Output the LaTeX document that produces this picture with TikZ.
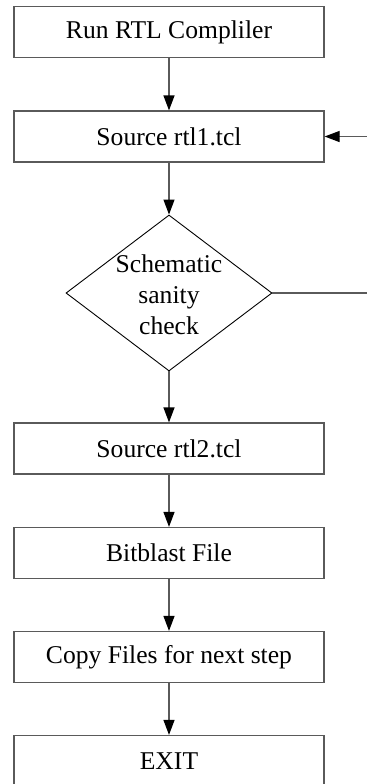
\documentclass[tikz,border=0pt]{standalone}
\usepackage{fontspec}
\setmainfont{Liberation Serif}
\usetikzlibrary{shapes.geometric,arrows.meta}
\definecolor{edge}{HTML}{5A5A5A}
\begin{document}
\begin{tikzpicture}[x=0.5pt,y=-0.5pt,
  font=\fontsize{12.8}{15.5}\selectfont,
  stepbox/.style={draw=edge,line width=0.6pt,minimum width=155pt,minimum height=25.5pt,inner sep=0pt,anchor=center},
  decision/.style={diamond,draw=black,line width=0.45pt,minimum width=103pt,minimum height=78pt,inner sep=0pt,aspect=1.32},
  flow/.style={draw=edge,line width=0.6pt,-{Triangle[width=5.5pt,length=7.5pt,fill=black,color=black]}},
  plain/.style={draw=edge,line width=0.6pt}]
\useasboundingbox (0,0) rectangle (367,784);
\node[stepbox] (run)  at (169,32)    {Run RTL Compliler};
\node[stepbox] (src1) at (169,136.5) {Source rtl1.tcl};
\node[decision,label={[align=center,yshift=-1pt]center:Schematic\\sanity\\check}] (chk) at (169,293) {};
\node[stepbox] (src2) at (169,448.5) {Source rtl2.tcl};
\node[stepbox] (bit)  at (169,553)   {Bitblast File};
\node[stepbox] (copy) at (169,657)   {Copy Files for next step};
\node[stepbox] (exit) at (169,761)   {EXIT};
\coordinate (loop) at (385,293);
\path[flow] (run) -- (src1);
\path[flow] (src1) -- (chk);
\path[flow] (chk) -- (src2);
\path[flow] (src2) -- (bit);
\path[flow] (bit) -- (copy);
\path[flow] (copy) -- (exit);
\path[flow] (chk.east) -- (loop) |- (src1.east);
\end{tikzpicture}
\end{document}
